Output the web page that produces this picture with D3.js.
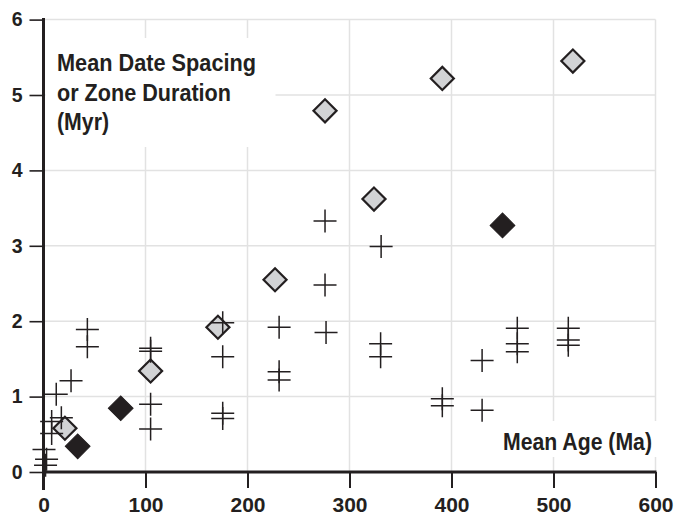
<!DOCTYPE html>
<html><head><meta charset="utf-8">
<script src="https://cdn.jsdelivr.net/npm/d3@7/dist/d3.min.js"></script>
<style>body{margin:0;background:#fff}svg{display:block}</style>
</head><body><svg id="c" width="676" height="520"></svg>
<script>
// ---- data ----
const xTicks = [0, 100, 200, 300, 400, 500, 600];
const yTicks = [0, 1, 2, 3, 4, 5, 6];
const yTitleLines = ["Mean Date Spacing", "or Zone Duration", "(Myr)"];
const xTitle = "Mean Age (Ma)";

// gray diamonds
const grayAge     = [21, 105, 171, 227, 276, 324, 391, 519];
const graySpacing = [0.58, 1.34, 1.92, 2.55, 4.79, 3.62, 5.22, 5.45];
// black diamonds
const blackAge     = [33.5, 75.7, 450];
const blackSpacing = [0.34, 0.845, 3.27];
// crosses
const crossAge = [0.5, 3, 2, 8, 8, 17.5, 12.5, 27, 43, 43,
                  105, 105, 105, 105,
                  175.7, 175.7, 175.7, 175.7,
                  231, 231, 231,
                  276, 276, 277,
                  331, 330.5, 330.5,
                  391, 391,
                  430, 430,
                  464.5, 464.5, 464.5,
                  514.5, 514.5, 514.5];
const crossSpacing = [0.30, 0.17, 0.09, 0.51, 0.67, 0.72, 1.03, 1.21, 1.89, 1.66,
                      1.64, 1.60, 0.90, 0.57,
                      1.98, 1.53, 0.78, 0.71,
                      1.92, 1.33, 1.22,
                      3.33, 2.48, 1.85,
                      2.99, 1.70, 1.53,
                      0.97, 0.88,
                      1.48, 0.82,
                      1.905, 1.70, 1.595,
                      1.905, 1.75, 1.68];

// ---- layout ----
const W = 676, H = 520;
const m = {left: 43.5, right: 20.5, top: 19.6, bottom: 48};
const svg = d3.select("#c");
const x = d3.scaleLinear().domain([0, 600]).range([m.left, W - m.right]);
const y = d3.scaleLinear().domain([0, 6]).range([H - m.bottom, m.top]);
const FONT = "'Liberation Sans', Arial, sans-serif";
const INK = "#231f20";

// grid
const grid = svg.append("g");
grid.selectAll("line.vx").data(xTicks.filter(d => d > 0)).join("line")
  .attr("x1", d => x(d)).attr("x2", d => x(d))
  .attr("y1", y(6)).attr("y2", y(0))
  .attr("stroke", "#e2e2e2").attr("stroke-width", 1.5);
grid.selectAll("line.hy").data(yTicks.filter(d => d > 0)).join("line")
  .attr("x1", x(0)).attr("x2", x(600))
  .attr("y1", d => y(d)).attr("y2", d => y(d))
  .attr("stroke", "#e2e2e2").attr("stroke-width", 1.5);

// white boxes behind titles
svg.append("rect").attr("x", x(0) + 2).attr("y", 38).attr("width", 230).attr("height", 109).attr("fill", "#fff");
svg.append("rect").attr("x", 495).attr("y", 421).attr("width", 165).attr("height", 36).attr("fill", "#fff");

// axes
const yAxis = d3.axisLeft(y).tickValues(yTicks).tickSize(14).tickSizeOuter(0).tickPadding(7).tickFormat(d3.format("d"));
const gy = svg.append("g").attr("transform", `translate(${x(0)},0)`).call(yAxis);
gy.select(".domain").remove();
gy.selectAll(".tick line").attr("stroke", INK).attr("stroke-width", 1.6);
gy.selectAll(".tick text").attr("font-family", FONT).attr("font-weight", "bold")
  .attr("font-size", 19.5).attr("fill", INK);

const xAxis = d3.axisBottom(x).tickValues(xTicks).tickSize(16).tickSizeOuter(0).tickPadding(9).tickFormat(d3.format("d"));
const gx = svg.append("g").attr("transform", `translate(0,${y(0)})`).call(xAxis);
gx.select(".domain").remove();
gx.selectAll(".tick line").attr("stroke", INK).attr("stroke-width", 2);
gx.selectAll(".tick text").attr("font-family", FONT).attr("font-weight", "bold")
  .attr("font-size", 21).attr("fill", INK);

// axis lines
svg.append("line").attr("x1", x(0)).attr("x2", x(0)).attr("y1", y(6) - 1.5).attr("y2", y(0) + 18)
  .attr("stroke", INK).attr("stroke-width", 3);
svg.append("line").attr("x1", x(0) - 1.5).attr("x2", x(600) + 1).attr("y1", y(0)).attr("y2", y(0))
  .attr("stroke", INK).attr("stroke-width", 3);

// titles
const tl = svg.append("text").attr("font-family", FONT).attr("font-weight", "bold")
  .attr("font-size", 23).attr("fill", INK);
const tlLen = [199, 174, 52];
const tlY = [71, 101, 130];
yTitleLines.forEach((s, i) => {
  tl.append("tspan").attr("x", 57).attr("y", tlY[i]).attr("textLength", tlLen[i])
    .attr("lengthAdjust", "spacingAndGlyphs").text(s);
});
svg.append("text").attr("x", 652).attr("y", 450).attr("text-anchor", "end")
  .attr("font-family", FONT).attr("font-weight", "bold").attr("font-size", 23).attr("fill", INK)
  .attr("textLength", 149).attr("lengthAdjust", "spacingAndGlyphs").text(xTitle);

// marks
const crossSym = {draw(ctx, size) { const r = Math.sqrt(size) / 2;
  ctx.moveTo(-r, 0); ctx.lineTo(r, 0); ctx.moveTo(0, -r); ctx.lineTo(0, r); }};

svg.append("g").selectAll("path").data(d3.range(grayAge.length)).join("path")
  .attr("d", d3.symbol(d3.symbolSquare, 266))
  .attr("transform", i => `translate(${x(grayAge[i])},${y(graySpacing[i])}) rotate(45)`)
  .attr("fill", "#d2d3d5").attr("stroke", INK).attr("stroke-width", 2.2);

svg.append("g").selectAll("path").data(d3.range(crossAge.length)).join("path")
  .attr("d", d3.symbol(crossSym, 529))
  .attr("transform", i => `translate(${x(crossAge[i])},${y(crossSpacing[i])})`)
  .attr("fill", "none").attr("stroke", INK).attr("stroke-width", 1.5);

svg.append("g").selectAll("path").data(d3.range(blackAge.length)).join("path")
  .attr("d", d3.symbol(d3.symbolSquare, 306))
  .attr("transform", i => `translate(${x(blackAge[i])},${y(blackSpacing[i])}) rotate(45)`)
  .attr("fill", INK).attr("stroke", INK).attr("stroke-width", 1);
</script></body></html>
